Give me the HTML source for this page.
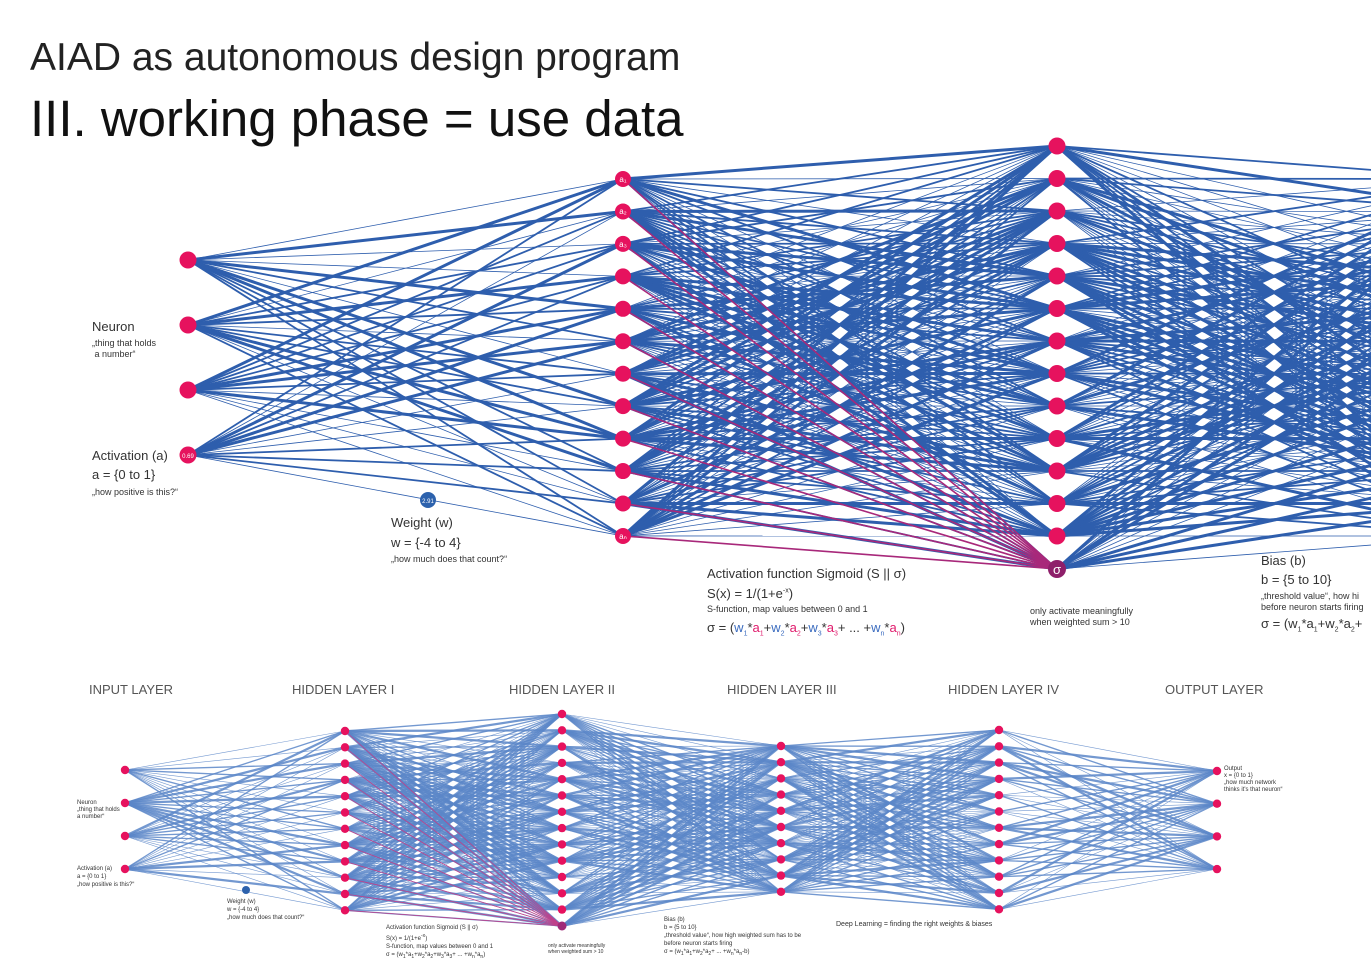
<!DOCTYPE html>
<html><head><meta charset="utf-8"><style>
html,body{margin:0;background:#fff;width:1371px;height:968px;overflow:hidden;font-family:"Liberation Sans",sans-serif;color:#222}
svg{position:absolute;left:0;top:0}
.t{position:absolute;white-space:nowrap;color:#333}
.pk{color:#e0196b}.bl{color:#3a6bbf}
</style></head><body>
<svg id="s" width="1371" height="968" viewBox="0 0 1371 968"></svg>
<div class="t" style="left:30px;top:36px;font-size:39px;color:#222">AIAD as autonomous design program</div>
<div class="t" style="left:30px;top:89px;font-size:51px;color:#111">III. working phase = use data</div>

<div class="t" style="left:92px;top:319px;font-size:13px">Neuron</div>
<div class="t" style="left:92px;top:338px;font-size:9px;line-height:11px">„thing that holds<br>&nbsp;a number“</div>
<div class="t" style="left:92px;top:448px;font-size:13px">Activation (a)</div>
<div class="t" style="left:92px;top:467px;font-size:13px">a = {0 to 1}</div>
<div class="t" style="left:92px;top:487px;font-size:9px">„how positive is this?“</div>
<div class="t" style="left:391px;top:515px;font-size:13px">Weight (w)</div>
<div class="t" style="left:391px;top:535px;font-size:13px">w = {-4 to 4}</div>
<div class="t" style="left:391px;top:554px;font-size:9px">„how much does that count?“</div>
<div class="t" style="left:707px;top:566px;font-size:13px">Activation function Sigmoid (S || σ)</div>
<div class="t" style="left:707px;top:586px;font-size:13px">S(x) = 1/(1+e<sup style="font-size:7px">-x</sup>)</div>
<div class="t" style="left:707px;top:604px;font-size:9px">S-function, map values between 0 and 1</div>
<div class="t" style="left:707px;top:620px;font-size:13px">σ = (<span class="bl">w<sub style="font-size:7px">1</sub></span>*<span class="pk">a<sub style="font-size:7px">1</sub></span>+<span class="bl">w<sub style="font-size:7px">2</sub></span>*<span class="pk">a<sub style="font-size:7px">2</sub></span>+<span class="bl">w<sub style="font-size:7px">3</sub></span>*<span class="pk">a<sub style="font-size:7px">3</sub></span>+ ... +<span class="bl">w<sub style="font-size:7px">n</sub></span>*<span class="pk">a<sub style="font-size:7px">n</sub></span>)</div>
<div class="t" style="left:1030px;top:606px;font-size:9px;line-height:11px">only activate meaningfully<br>when weighted sum &gt; 10</div>
<div class="t" style="left:1261px;top:553px;font-size:13px">Bias (b)</div>
<div class="t" style="left:1261px;top:572px;font-size:13px">b = {5 to 10}</div>
<div class="t" style="left:1261px;top:591px;font-size:9px;line-height:11px">„threshold value“, how hi<br>before neuron starts firing</div>
<div class="t" style="left:1261px;top:616px;font-size:13px">σ = (w<sub style="font-size:7px">1</sub>*a<sub style="font-size:7px">1</sub>+w<sub style="font-size:7px">2</sub>*a<sub style="font-size:7px">2</sub>+</div>

<div class="t" style="left:89px;top:682px;font-size:13px;color:#555">INPUT LAYER</div>
<div class="t" style="left:292px;top:682px;font-size:13px;color:#555">HIDDEN LAYER I</div>
<div class="t" style="left:509px;top:682px;font-size:13px;color:#555">HIDDEN LAYER II</div>
<div class="t" style="left:727px;top:682px;font-size:13px;color:#555">HIDDEN LAYER III</div>
<div class="t" style="left:948px;top:682px;font-size:13px;color:#555">HIDDEN LAYER IV</div>
<div class="t" style="left:1165px;top:682px;font-size:13px;color:#555">OUTPUT LAYER</div>

<div class="t" style="left:77px;top:800px;font-size:6px;line-height:7px">Neuron<br>„thing that holds<br>a number“</div>
<div class="t" style="left:77px;top:865px;font-size:6px;line-height:8px">Activation (a)<br>a = {0 to 1}<br>„how positive is this?“</div>
<div class="t" style="left:227px;top:898px;font-size:6px;line-height:8px">Weight (w)<br>w = {-4 to 4}<br>„how much does that count?“</div>
<div class="t" style="left:386px;top:924px;font-size:6px;line-height:8px">Activation function Sigmoid (S || σ)<br>S(x) = 1/(1+e<sup>-x</sup>)<br>S-function, map values between 0 and 1<br>σ = (w<sub>1</sub>*a<sub>1</sub>+w<sub>2</sub>*a<sub>2</sub>+w<sub>3</sub>*a<sub>3</sub>+ ... +w<sub>n</sub>*a<sub>n</sub>)</div>
<div class="t" style="left:548px;top:943px;font-size:5px;line-height:6px">only activate meaningfully<br>when weighted sum &gt; 10</div>
<div class="t" style="left:664px;top:916px;font-size:6px;line-height:8px">Bias (b)<br>b = {5 to 10}<br>„threshold value“, how high weighted sum has to be<br>before neuron starts firing<br>σ = (w<sub>1</sub>*a<sub>1</sub>+w<sub>2</sub>*a<sub>2</sub>+ ... +w<sub>n</sub>*a<sub>n</sub>-b)</div>
<div class="t" style="left:836px;top:921px;font-size:7px">Deep Learning = finding the right weights &amp; biases</div>
<div class="t" style="left:1224px;top:766px;font-size:6px;line-height:7px">Output<br>x = {0 to 1}<br>„how much network<br>thinks it's that neuron“</div>

<script>
var s=document.getElementById('s'),NS='http://www.w3.org/2000/svg';
var seed=7;function r(){seed=(seed*16807)%2147483647;return seed/2147483647;}
function el(t,a){var e=document.createElementNS(NS,t);for(var k in a)e.setAttribute(k,a[k]);s.appendChild(e);return e;}
function col(x,n,y0,dy){var a=[];for(var i=0;i<n;i++)a.push([x,y0+i*dy]);return a;}
function conn(A,B,c,sc,op){A.forEach(function(p){B.forEach(function(q){var w=r();w=w<0.35?0.8:(w<0.7?1.8:3);el('line',{x1:p[0],y1:p[1],x2:q[0],y2:q[1],stroke:c,'stroke-width':w*sc,'stroke-opacity':op});});});}
function nodes(A,rad,c){A.forEach(function(p){el('circle',{cx:p[0],cy:p[1],r:rad,fill:c});});}
var T0=col(188,4,260,65),T1=col(623,12,179,32.45),T2=col(1057,13,146,32.5),T3=col(1491,12,179,32.45);
var sig=[1057,569];
conn(T0,T1,'#2e5ead',1,1);conn(T1,T2.concat([sig]),'#2e5ead',1,1);conn(T2.concat([sig]),T3,'#2e5ead',1,1);
T1.forEach(function(p){el('line',{x1:p[0],y1:p[1],x2:sig[0],y2:sig[1],stroke:'#a8287a','stroke-width':1.6});});
nodes(T0,8.5,'#e6125e');nodes(T1,8,'#e6125e');nodes(T2,8.5,'#e6125e');
el('circle',{cx:sig[0],cy:sig[1],r:9,fill:'#8e1f6a'});
el('circle',{cx:428,cy:500,r:8,fill:'#2d62ad'});
var B0=col(125,4,770,33),B1=col(345,12,731,16.3),B2=col(562,13,714,16.3),B3=col(781,10,746,16.2),B4=col(999,12,730,16.3),B5=col(1217,4,771,32.7);
var bs=[562,926];
conn(B0,B1,'#5b86c8',0.75,0.85);conn(B1,B2.concat([bs]),'#5b86c8',0.75,0.85);conn(B2.concat([bs]),B3,'#5b86c8',0.75,0.85);conn(B3,B4,'#5b86c8',0.75,0.85);conn(B4,B5,'#5b86c8',0.75,0.85);
B1.forEach(function(p){el('line',{x1:p[0],y1:p[1],x2:bs[0],y2:bs[1],stroke:'#c0408a','stroke-width':0.8});});
[B0,B1,B2,B3,B4,B5].forEach(function(L){nodes(L,4.2,'#e6125e');});
el('circle',{cx:bs[0],cy:bs[1],r:4.5,fill:'#a02a78'});
el('circle',{cx:246,cy:890,r:4,fill:'#2d62ad'});
function tx(x,y,t,sz,c){var e=el('text',{x:x,y:y,'font-size':sz,fill:c||'#fff','text-anchor':'middle','font-family':'Liberation Sans, sans-serif'});e.textContent=t;}
tx(188,458,'0.69',6);tx(428,503,'2.91',6);tx(1057,574,'σ',13);
tx(623,182,'a₁',8);tx(623,214,'a₂',8);tx(623,247,'a₃',8);tx(623,539,'aₙ',8);
</script>
</body></html>
